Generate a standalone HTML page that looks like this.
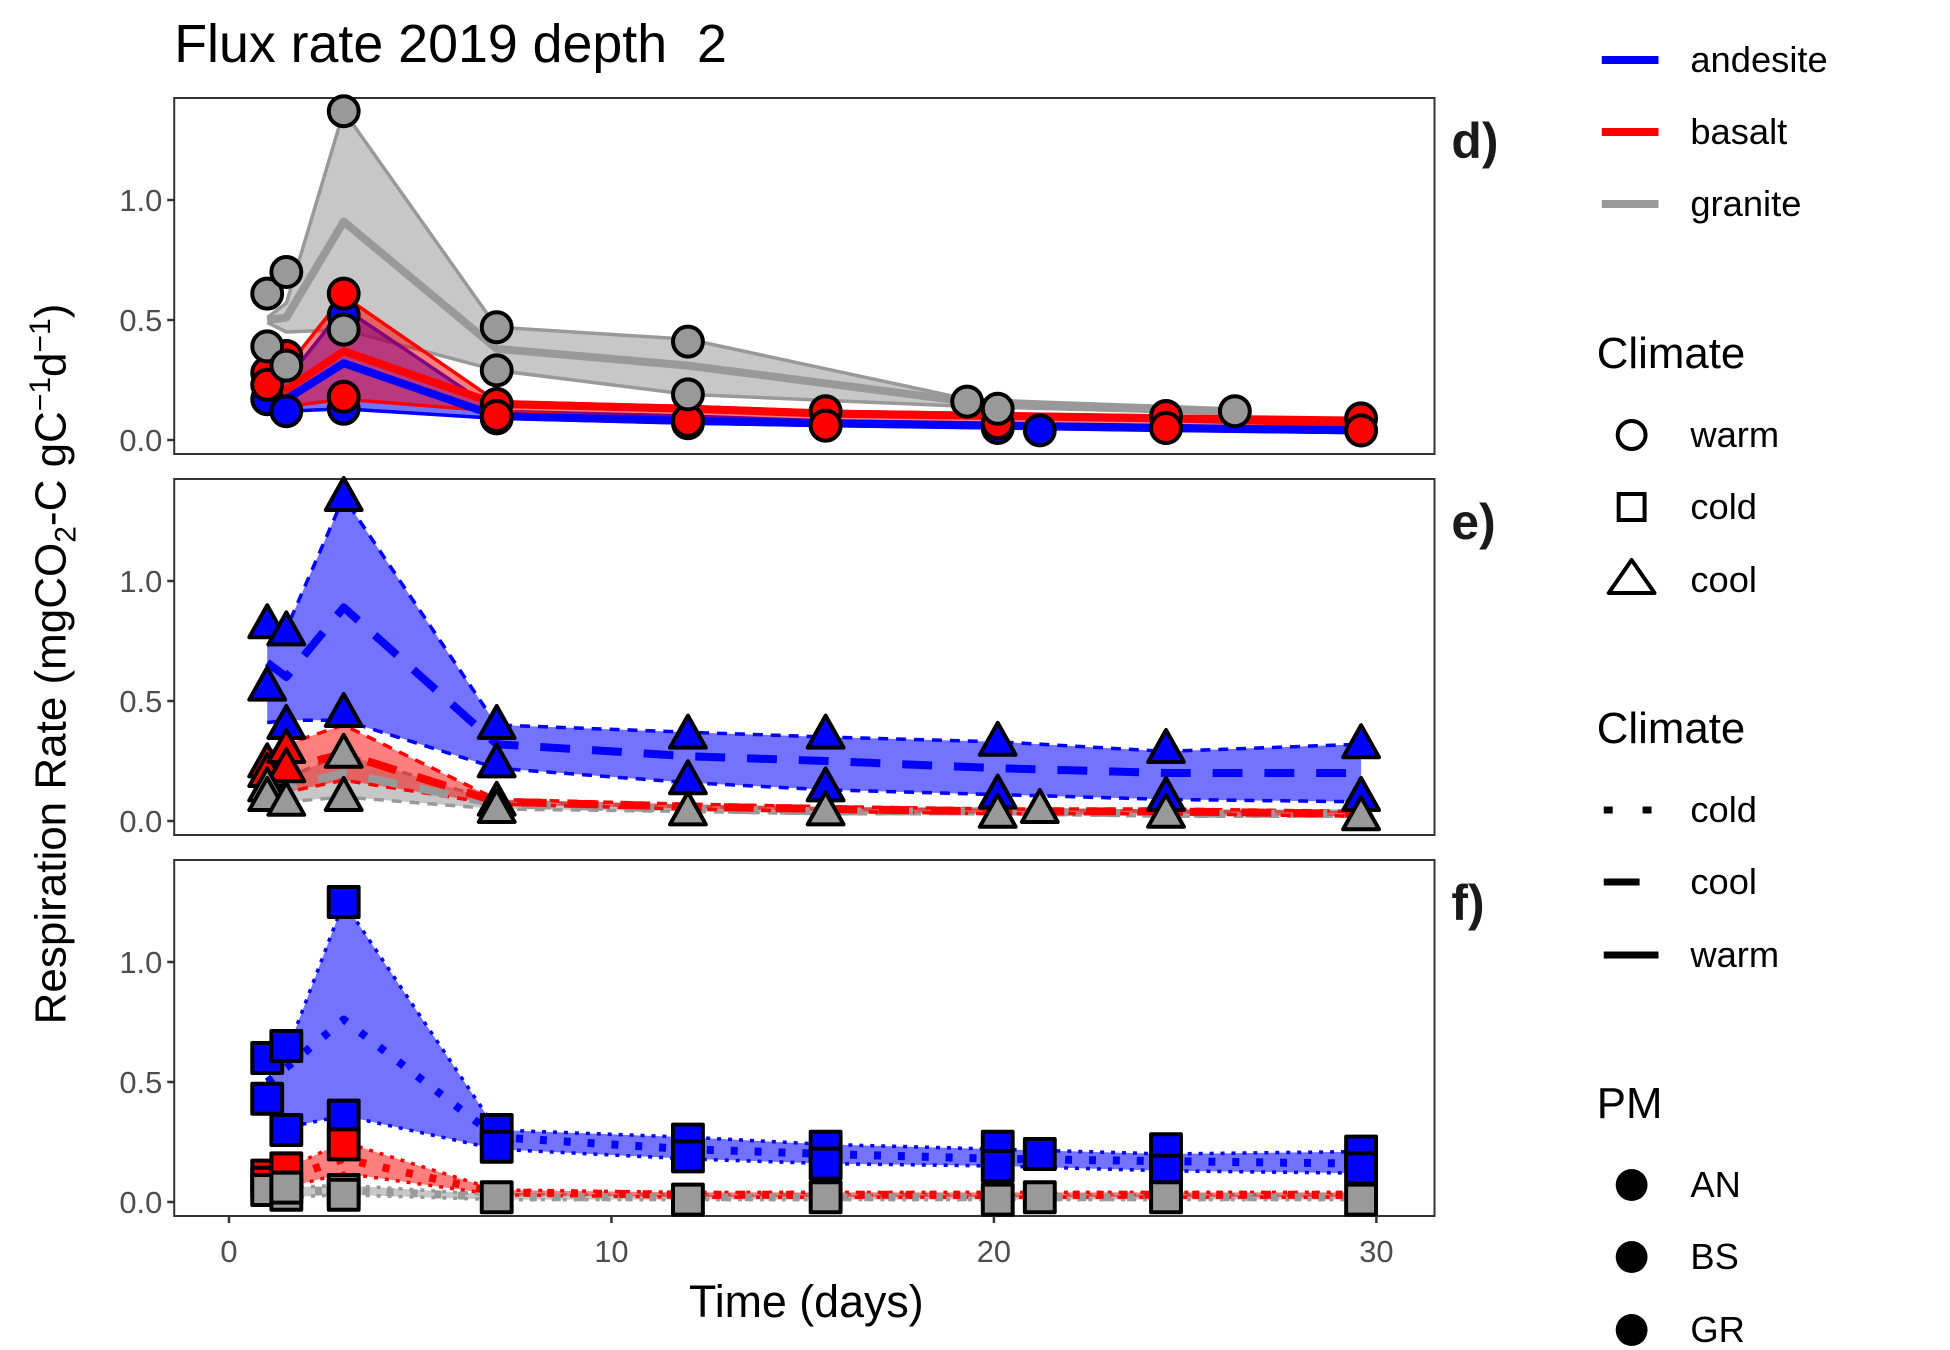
<!DOCTYPE html>
<html><head><meta charset="utf-8"><style>
html,body{margin:0;padding:0;background:#fff;}
svg{display:block;font-family:"Liberation Sans",sans-serif;}
</style></head><body>
<svg id="chart" width="1950" height="1350" viewBox="0 0 1950 1350" xmlns="http://www.w3.org/2000/svg">
<rect x="0" y="0" width="1950" height="1350" fill="#fff"/>
<g transform="scale(0.9955,1)">
<text x="175" y="62" font-size="54" fill="#000" xml:space="preserve">Flux rate 2019 depth&#160; 2</text>
<text x="810" y="1317" font-size="45" text-anchor="middle" fill="#000">Time (days)</text>
<text transform="translate(66,664) rotate(-90)" font-size="44" text-anchor="middle" fill="#000">Respiration Rate (mgCO<tspan font-size="30" dy="10">2</tspan><tspan dy="-10">-C gC</tspan><tspan font-size="30" dy="-16">−1</tspan><tspan dy="16">d</tspan><tspan font-size="30" dy="-16">−1</tspan><tspan dy="16">)</tspan></text>
<g id="panels"></g>
<g id="legend"></g>
</g>
</svg>
<script>
const days = [1,1.5,3,7,12,15.6,20.1,24.5,29.6];
const grWarmDays = [1,1.5,3,7,12,19.3,26.3];
const yTicks = [0.0,0.5,1.0];
const yTickLabels = ["0.0","0.5","1.0"];
const xTicks = [0,10,20,30];
const xTickLabels = ["0","10","20","30"];
const panelLabels = ["d)","e)","f)"];

// Panel d: warm
const warmANmean = [0.18,0.17,0.32,0.10,0.08,0.07,0.06,0.05,0.04];
const warmANlo = [0.15,0.12,0.13,0.09,0.07,0.06,0.05,0.04,0.03];
const warmANhi = [0.22,0.25,0.55,0.12,0.10,0.08,0.07,0.06,0.05];
const warmANpx = [1,1.5,3,3,7,12,15.6,20.1,21.2,24.5,29.6];
const warmANpy = [0.17,0.12,0.52,0.13,0.09,0.07,0.06,0.05,0.04,0.05,0.04];
const warmBSmean = [0.23,0.21,0.37,0.15,0.13,0.11,0.10,0.09,0.07];
const warmBSlo = [0.18,0.14,0.17,0.12,0.08,0.07,0.06,0.05,0.04];
const warmBShi = [0.28,0.30,0.60,0.16,0.14,0.12,0.11,0.10,0.09];
const warmBSpx = [1,1,1.5,3,3,7,7,12,15.6,15.6,20.1,24.5,24.5,29.6,29.6];
const warmBSpy = [0.28,0.23,0.35,0.61,0.18,0.15,0.10,0.08,0.12,0.06,0.07,0.10,0.05,0.09,0.04];
const warmGRmean = [0.50,0.51,0.91,0.38,0.31,0.16,0.12];
const warmGRlo = [0.49,0.45,0.46,0.29,0.19,0.14,0.11];
const warmGRhi = [0.51,0.57,1.37,0.47,0.42,0.17,0.12];
const warmGRpx = [1,1,1.5,1.5,3,3,7,7,12,12,19.3,20.1,26.3];
const warmGRpy = [0.61,0.39,0.70,0.31,1.37,0.46,0.47,0.29,0.41,0.19,0.16,0.13,0.12];

// Panel e: cool
const coolANmean = [0.66,0.60,0.89,0.32,0.27,0.25,0.22,0.20,0.20];
const coolANlo = [0.41,0.42,0.42,0.22,0.16,0.13,0.11,0.09,0.08];
const coolANhi = [0.73,0.80,1.35,0.40,0.37,0.35,0.33,0.29,0.32];
const coolANpx = [1,1,1.5,1.5,3,3,7,7,12,12,15.6,15.6,20.1,20.1,24.5,24.5,29.6,29.6];
const coolANpy = [0.82,0.56,0.79,0.40,1.35,0.45,0.40,0.24,0.36,0.17,0.36,0.14,0.33,0.11,0.30,0.10,0.32,0.10];
const coolBSmean = [0.23,0.22,0.28,0.08,0.06,0.05,0.04,0.04,0.03];
const coolBSlo = [0.18,0.12,0.17,0.07,0.05,0.04,0.03,0.03,0.02];
const coolBShi = [0.28,0.32,0.40,0.09,0.07,0.06,0.05,0.05,0.04];
const coolBSpx = [1,1,1.5,1.5];
const coolBSpy = [0.24,0.20,0.30,0.22];
const coolGRmean = [0.13,0.14,0.20,0.07,0.05,0.04,0.04,0.03,0.03];
const coolGRlo = [0.10,0.08,0.10,0.05,0.04,0.03,0.03,0.02,0.02];
const coolGRhi = [0.16,0.18,0.28,0.08,0.06,0.05,0.05,0.04,0.04];
const coolGRpx = [1,1,1.5,3,3,7,7,12,15.6,20.1,21.2,24.5,29.6];
const coolGRpy = [0.14,0.10,0.08,0.28,0.10,0.08,0.05,0.04,0.04,0.03,0.05,0.03,0.02];

// Panel f: cold
const coldANmean = [0.50,0.56,0.76,0.27,0.22,0.20,0.18,0.17,0.16];
const coldANlo = [0.50,0.31,0.36,0.22,0.18,0.16,0.15,0.13,0.12];
const coldANhi = [0.50,0.62,1.25,0.30,0.27,0.24,0.22,0.20,0.21];
const coldANpx = [1,1,1.5,1.5,3,3,7,7,12,12,15.6,15.6,20.1,20.1,21.2,24.5,24.5,29.6,29.6];
const coldANpy = [0.60,0.43,0.65,0.30,1.25,0.36,0.30,0.23,0.26,0.19,0.23,0.16,0.23,0.15,0.20,0.22,0.13,0.21,0.14];
const coldBSmean = [0.10,0.10,0.18,0.04,0.03,0.03,0.03,0.03,0.03];
const coldBSlo = [0.08,0.06,0.12,0.03,0.02,0.02,0.02,0.02,0.02];
const coldBShi = [0.12,0.14,0.25,0.05,0.04,0.04,0.04,0.04,0.04];
const coldBSpx = [1,1,1.5,3];
const coldBSpy = [0.11,0.08,0.14,0.24];
const coldGRmean = [0.04,0.04,0.05,0.02,0.02,0.02,0.02,0.02,0.02];
const coldGRlo = [0.02,0.02,0.03,0.01,0.01,0.01,0.01,0.01,0.01];
const coldGRhi = [0.06,0.06,0.07,0.03,0.03,0.03,0.03,0.03,0.03];
const coldGRpx = [1,1.5,1.5,3,3,7,12,15.6,20.1,21.2,24.5,29.6];
const coldGRpy = [0.05,0.03,0.06,0.05,0.03,0.02,0.01,0.02,0.01,0.02,0.02,0.01];

const NS = "http://www.w3.org/2000/svg";
const PL = 175, PR = 1441, PH = 356, PT = [98,479,860];
function xs(d){ return 230 + d*38.42; }
function ys(p, v){ return PT[p] + 342 - v*240; }
function mk(tag, attrs, parent){
  const e = document.createElementNS(NS, tag);
  for (const k in attrs) e.setAttribute(k, attrs[k]);
  parent.appendChild(e);
  return e;
}
const col = {AN:"#0000ff", BS:"#ff0000", GR:"#999999"};
const fillCol = {AN:"rgba(0,0,255,0.55)", BS:"rgba(255,0,0,0.5)", GR:"rgba(153,153,153,0.55)"};
const pmName = {AN:"andesite", BS:"basalt", GR:"granite"};
const panelsG = document.getElementById("panels");

const panels = [
  {clim:"warm", shape:"circle", meanDash:"", edgeDash:"",
   s:{AN:[days,warmANmean,warmANlo,warmANhi,warmANpx,warmANpy],
      BS:[days,warmBSmean,warmBSlo,warmBShi,warmBSpx,warmBSpy],
      GR:[grWarmDays,warmGRmean,warmGRlo,warmGRhi,warmGRpx,warmGRpy]}},
  {clim:"cool", shape:"triangle", meanDash:"30,22", edgeDash:"10,8",
   s:{AN:[days,coolANmean,coolANlo,coolANhi,coolANpx,coolANpy],
      BS:[days,coolBSmean,coolBSlo,coolBShi,coolBSpx,coolBSpy],
      GR:[days,coolGRmean,coolGRlo,coolGRhi,coolGRpx,coolGRpy]}},
  {clim:"cold", shape:"square", meanDash:"7,17", edgeDash:"4,7",
   s:{AN:[days,coldANmean,coldANlo,coldANhi,coldANpx,coldANpy],
      BS:[days,coldBSmean,coldBSlo,coldBShi,coldBSpx,coldBSpy],
      GR:[days,coldGRmean,coldGRlo,coldGRhi,coldGRpx,coldGRpy]}}
];

function marker(shape, cx, cy, fill, parent){
  let e;
  if (shape === "circle") e = mk("circle",{cx:cx,cy:cy,r:15,fill:fill,stroke:"#000","stroke-width":4},parent);
  else if (shape === "square") e = mk("rect",{x:cx-15,y:cy-15,width:30,height:30,fill:fill,stroke:"#000","stroke-width":4,"stroke-linejoin":"round"},parent);
  else e = mk("polygon",{points:(cx)+","+(cy-19)+" "+(cx-18)+","+(cy+13)+" "+(cx+18)+","+(cy+13),fill:fill,stroke:"#000","stroke-width":4,"stroke-linejoin":"round"},parent);
  return e;
}

panels.forEach(function(P, p){
  const g = mk("g",{},panelsG);
  
  
  const frame = mk("rect",{x:PL,y:PT[p],width:PR-PL,height:PH,fill:"none",stroke:"#333","stroke-width":2},g);
  
  
  yTicks.forEach(function(v,i){
    const t = mk("line",{x1:PL-7,x2:PL,y1:ys(p,v),y2:ys(p,v),stroke:"#333","stroke-width":2.5},g);
    
    
    const l = mk("text",{x:PL-12,y:ys(p,v)+11,"font-size":31,fill:"#4d4d4d","text-anchor":"end"},g);
    l.textContent = yTickLabels[i];
    
    
  });
  const lab = mk("text",{x:1458,y:PT[p]+60,"font-size":50,"font-weight":"bold",fill:"#1a1a1a"},g);
  lab.textContent = panelLabels[p];
  
  

  ["GR","AN","BS"].forEach(function(k){
    const d = P.s[k];
    let pts = [];
    d[0].forEach(function(t,i){ pts.push(xs(t)+","+ys(p,d[3][i])); });
    for (let i=d[0].length-1;i>=0;i--) pts.push(xs(d[0][i])+","+ys(p,d[2][i]));
    const r = mk("polygon",{points:pts.join(" "),fill:fillCol[k],stroke:"none"},g);
    
    
    [d[3],d[2]].forEach(function(arr){
      const pl = mk("polyline",{points:d[0].map(function(t,i){return xs(t)+","+ys(p,arr[i]);}).join(" "),fill:"none",stroke:col[k],"stroke-width":3.5,"stroke-dasharray":P.edgeDash,"stroke-linejoin":"round"},g);
      
      
    });
  });
  ["GR","BS","AN"].forEach(function(k){
    const d = P.s[k];
    const ml = mk("polyline",{points:d[0].map(function(t,i){return xs(t)+","+ys(p,d[1][i]);}).join(" "),fill:"none",stroke:col[k],"stroke-width":8,"stroke-dasharray":P.meanDash,"stroke-linejoin":"round"},g);
    
    
  });
  ["AN","BS","GR"].forEach(function(k){
    const d = P.s[k];
    d[4].forEach(function(t,i){
      const m = marker(P.shape, xs(t), ys(p,d[5][i]), col[k], g);
      
      
    });
  });
});
const xg = mk("g",{},panelsG);


xTicks.forEach(function(v,i){
  const t = mk("line",{x1:xs(v),x2:xs(v),y1:PT[2]+PH,y2:PT[2]+PH+7,stroke:"#333","stroke-width":2.5},xg);
  
  
  const l = mk("text",{x:xs(v),y:PT[2]+PH+46,"font-size":31,fill:"#4d4d4d","text-anchor":"middle"},xg);
  l.textContent = xTickLabels[i];
  
  
});

const lg = document.getElementById("legend");
function ltext(x,y,s,size,name){
  const t = mk("text",{x:x,y:y,"font-size":size,fill:"#000"},lg);
  t.textContent = s;
  
  
}
[["andesite","#0000ff",60],["basalt","#ff0000",132],["granite","#999999",204]].forEach(function(e){
  const l = mk("line",{x1:1609,x2:1666,y1:e[2],y2:e[2],stroke:e[1],"stroke-width":8},lg);
  
  
  ltext(1698,e[2]+12,e[0],36.5,'legend-label-' + e[0]);
});
ltext(1604,368,"Climate",44,'legend-title-shape');
[["warm","circle",435],["cold","square",507],["cool","triangle",580]].forEach(function(e){
  let m;
  if (e[1]==="circle") m = mk("circle",{cx:1639,cy:e[2],r:14,fill:"none",stroke:"#000","stroke-width":4},lg);
  else if (e[1]==="square") m = mk("rect",{x:1626,y:e[2]-13,width:26,height:26,fill:"none",stroke:"#000","stroke-width":4},lg);
  else m = mk("polygon",{points:"1639,"+(e[2]-20)+" 1616,"+(e[2]+13)+" 1662,"+(e[2]+13),fill:"none",stroke:"#000","stroke-width":4,"stroke-linejoin":"round"},lg);
  
  
  ltext(1698,e[2]+12,e[0],36.5,'legend-label-shape-' + e[0]);
});
ltext(1604,743,"Climate",44,'legend-title-linetype');
[["cold","9,30",810],["cool","36,20",882],["warm","",955]].forEach(function(e){
  const l = mk("line",{x1:1611,x2:1666,y1:e[2],y2:e[2],stroke:"#000","stroke-width":7,"stroke-dasharray":e[1]},lg);
  
  
  ltext(1698,e[2]+12,e[0],36.5,'legend-label-linetype-' + e[0]);
});
ltext(1604,1118,"PM",44,'legend-title-pm');
[["AN",1185],["BS",1257],["GR",1330]].forEach(function(e){
  const c = mk("circle",{cx:1639,cy:e[1],r:16,fill:"#000"},lg);
  
  
  ltext(1698,e[1]+12,e[0],36.5,'legend-label-pm-' + e[0]);
});
</script>
</body></html>
